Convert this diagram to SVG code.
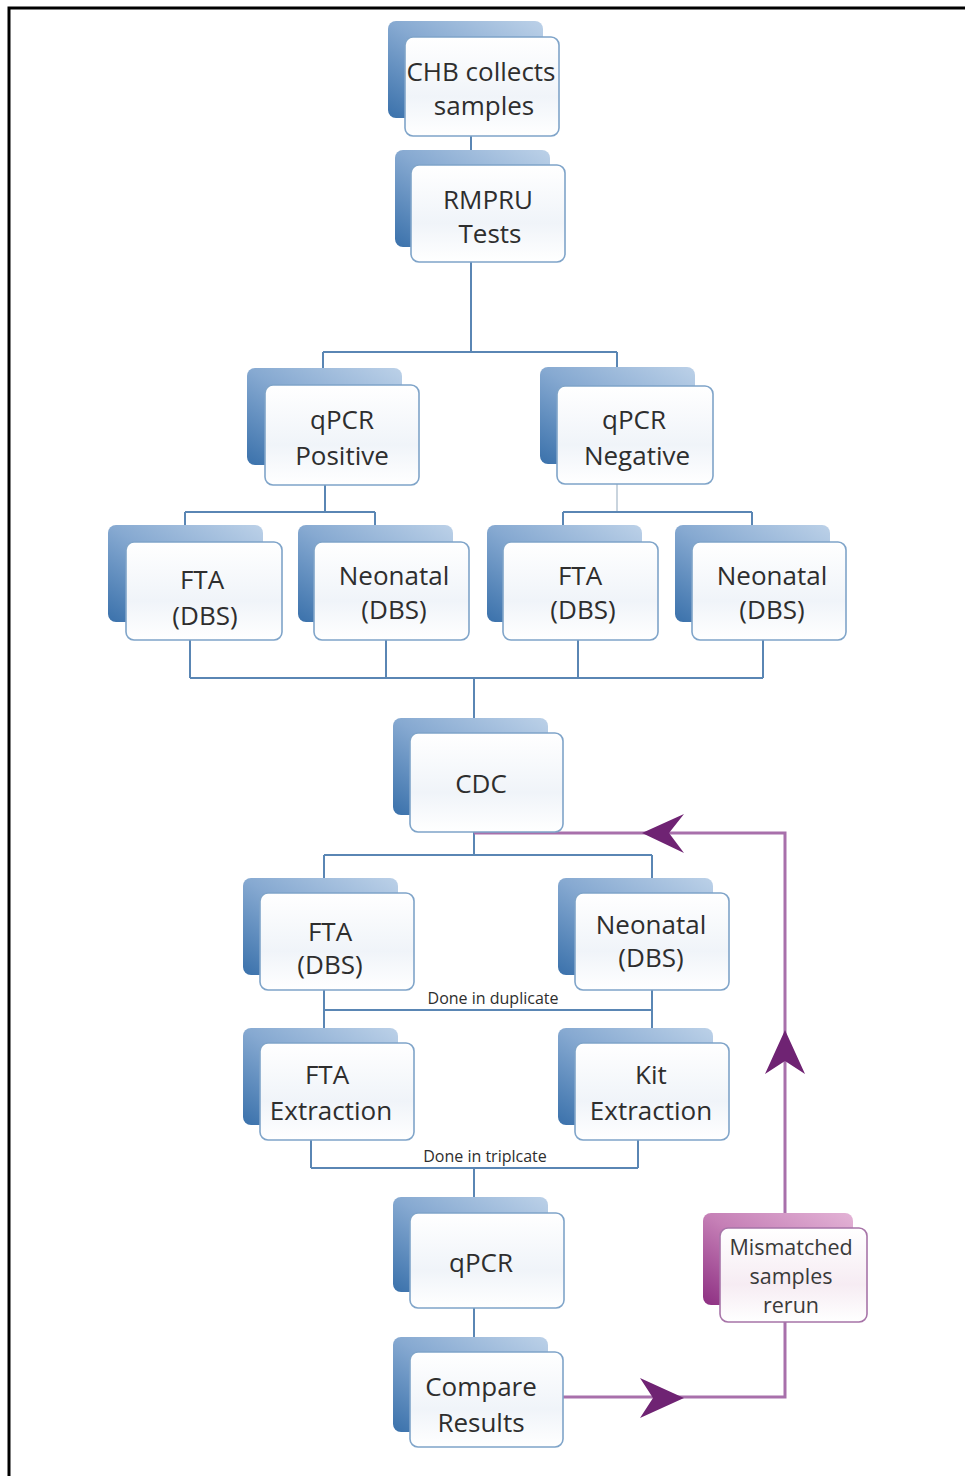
<svg xmlns="http://www.w3.org/2000/svg" width="965" height="1476" viewBox="0 0 965 1476">
<defs>
<linearGradient id="gBlue" x1="1" y1="0" x2="0" y2="1">
<stop offset="0" stop-color="#bcd1e8"/>
<stop offset="0.5" stop-color="#86a9d1"/>
<stop offset="1" stop-color="#3a71ab"/>
</linearGradient>
<linearGradient id="gPink" x1="1" y1="0" x2="0" y2="1">
<stop offset="0" stop-color="#e3b3d6"/>
<stop offset="0.5" stop-color="#c57fb6"/>
<stop offset="1" stop-color="#8d2f82"/>
</linearGradient>
<linearGradient id="gFront" x1="0" y1="0" x2="0" y2="1">
<stop offset="0" stop-color="#ffffff"/>
<stop offset="0.6" stop-color="#f0f4f9"/>
<stop offset="1" stop-color="#ffffff"/>
</linearGradient>
<linearGradient id="gFrontP" x1="0" y1="0" x2="0" y2="1">
<stop offset="0" stop-color="#ffffff"/>
<stop offset="0.6" stop-color="#f6ecf3"/>
<stop offset="1" stop-color="#ffffff"/>
</linearGradient>
</defs>
<style>
.back{fill:url(#gBlue);}
.front{fill:url(#gFront);stroke:#7fa4c9;stroke-width:1.6;}
.backp{fill:url(#gPink);}
.frontp{fill:url(#gFrontP);stroke:#a774a8;stroke-width:1.6;}
.t{font-family:"Open Sans","Liberation Sans",sans-serif;font-size:26px;fill:#2e2e2e;text-anchor:middle;}
.tp{font-family:"Open Sans","Liberation Sans",sans-serif;font-size:21.5px;fill:#3a3a3a;text-anchor:middle;}
.small{font-family:"Open Sans","Liberation Sans",sans-serif;font-size:16px;fill:#2e2e2e;text-anchor:middle;}
.c{fill:none;stroke:#5a86b4;stroke-width:2;}
.cg{fill:none;stroke:#c9d4de;stroke-width:2;}
.p{fill:none;stroke:#a870ab;stroke-width:3;}
.ah{fill:#6f2373;}
</style>
<rect x="0" y="0" width="965" height="1476" fill="#ffffff"/>
<path d="M9 1476 V8 H965" fill="none" stroke="#000" stroke-width="3"/>

<g id="connectors">
<path class="c" d="M471 136 V150"/>
<path class="c" d="M471 262 V352 M323 352 H617 M323 352 V368 M617 352 V367"/>
<path class="c" d="M325 485 V512 M185 512 H375 M185 512 V525 M375 512 V525"/>
<path class="cg" d="M617 484 V512"/>
<path class="c" d="M563 512 H752 M563 512 V525 M752 512 V525"/>
<path class="c" d="M190 640 V678 M386 640 V678 M578 640 V678 M763 640 V678 M190 678 H763 M474 678 V718"/>
<path class="c" d="M474 832 V855 M324 855 H652 M324 855 V878 M652 855 V878"/>
<path class="c" d="M324 990 V1028 M652 990 V1028 M324 1010 H652"/>
<path class="c" d="M311 1140 V1168 M638 1140 V1168 M311 1168 H638 M474 1168 V1197"/>
<path class="c" d="M474 1308 V1337"/>
<path class="p" d="M563 1397 H785 V1322"/>
<path class="p" d="M785 1213 V833 H474"/>
<path class="ah" d="M684 1398 L640 1378 L653 1398 L640 1418 Z"/>
<path class="ah" d="M642 833 L684 814 L669 833 L684 853 Z"/>
<path class="ah" d="M785 1030 L805 1074 L785 1061 L765 1074 Z"/>
<text class="small" x="493" y="1004">Done in duplicate</text>
<text class="small" x="485" y="1162">Done in triplcate</text>
</g>

<g id="n-chb">
<rect class="back" x="388" y="21" width="155" height="97" rx="8"/>
<rect class="front" x="405" y="37" width="154" height="99" rx="8"/>
<text class="t" x="481" y="81">CHB collects</text>
<text class="t" x="484" y="115">samples</text>
</g>
<g id="n-rmpru">
<rect class="back" x="395" y="150" width="155" height="97" rx="8"/>
<rect class="front" x="411" y="165" width="154" height="97" rx="8"/>
<text class="t" x="488" y="209">RMPRU</text>
<text class="t" x="490" y="243">Tests</text>
</g>
<g id="n-qpos">
<rect class="back" x="247" y="368" width="155" height="97" rx="8"/>
<rect class="front" x="265" y="385" width="154" height="100" rx="8"/>
<text class="t" x="342" y="429">qPCR</text>
<text class="t" x="342" y="465">Positive</text>
</g>
<g id="n-qneg">
<rect class="back" x="540" y="367" width="155" height="97" rx="8"/>
<rect class="front" x="557" y="386" width="156" height="98" rx="8"/>
<text class="t" x="634" y="429">qPCR</text>
<text class="t" x="637" y="465">Negative</text>
</g>
<g id="n-fta1">
<rect class="back" x="108" y="525" width="155" height="97" rx="8"/>
<rect class="front" x="126" y="542" width="156" height="98" rx="8"/>
<text class="t" x="202" y="589">FTA</text>
<text class="t" x="205" y="625">(DBS)</text>
</g>
<g id="n-neo1">
<rect class="back" x="298" y="525" width="155" height="97" rx="8"/>
<rect class="front" x="314" y="542" width="155" height="98" rx="8"/>
<text class="t" x="394" y="585">Neonatal</text>
<text class="t" x="394" y="619">(DBS)</text>
</g>
<g id="n-fta2">
<rect class="back" x="487" y="525" width="155" height="97" rx="8"/>
<rect class="front" x="503" y="542" width="155" height="98" rx="8"/>
<text class="t" x="580" y="585">FTA</text>
<text class="t" x="583" y="619">(DBS)</text>
</g>
<g id="n-neo2">
<rect class="back" x="675" y="525" width="155" height="97" rx="8"/>
<rect class="front" x="692" y="542" width="154" height="98" rx="8"/>
<text class="t" x="772" y="585">Neonatal</text>
<text class="t" x="772" y="619">(DBS)</text>
</g>
<g id="n-cdc">
<rect class="back" x="393" y="718" width="155" height="97" rx="8"/>
<rect class="front" x="410" y="733" width="153" height="99" rx="8"/>
<text class="t" x="481" y="793">CDC</text>
</g>
<g id="n-fta3">
<rect class="back" x="243" y="878" width="155" height="97" rx="8"/>
<rect class="front" x="260" y="893" width="154" height="97" rx="8"/>
<text class="t" x="330" y="941">FTA</text>
<text class="t" x="330" y="974">(DBS)</text>
</g>
<g id="n-neo3">
<rect class="back" x="558" y="878" width="155" height="97" rx="8"/>
<rect class="front" x="575" y="893" width="154" height="97" rx="8"/>
<text class="t" x="651" y="934">Neonatal</text>
<text class="t" x="651" y="967">(DBS)</text>
</g>
<g id="n-ftaext">
<rect class="back" x="243" y="1028" width="155" height="97" rx="8"/>
<rect class="front" x="260" y="1043" width="154" height="97" rx="8"/>
<text class="t" x="327" y="1084">FTA</text>
<text class="t" x="331" y="1120">Extraction</text>
</g>
<g id="n-kitext">
<rect class="back" x="558" y="1028" width="155" height="97" rx="8"/>
<rect class="front" x="575" y="1043" width="154" height="97" rx="8"/>
<text class="t" x="651" y="1084">Kit</text>
<text class="t" x="651" y="1120">Extraction</text>
</g>
<g id="n-qpcr">
<rect class="back" x="393" y="1197" width="155" height="95" rx="8"/>
<rect class="front" x="410" y="1213" width="154" height="95" rx="8"/>
<text class="t" x="481" y="1272">qPCR</text>
</g>
<g id="n-compare">
<rect class="back" x="393" y="1337" width="155" height="95" rx="8"/>
<rect class="front" x="410" y="1352" width="153" height="95" rx="8"/>
<text class="t" x="481" y="1396">Compare</text>
<text class="t" x="481" y="1432">Results</text>
</g>
<g id="n-mismatch">
<rect class="backp" x="703" y="1213" width="150" height="92" rx="8"/>
<rect class="frontp" x="720" y="1228" width="147" height="94" rx="8"/>
<text class="tp" x="791" y="1255">Mismatched</text>
<text class="tp" x="791" y="1284">samples</text>
<text class="tp" x="791" y="1313">rerun</text>
</g>
</svg>
